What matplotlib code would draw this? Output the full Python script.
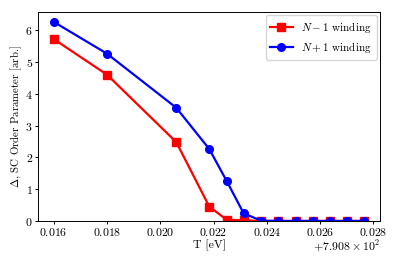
import matplotlib
matplotlib.use("Agg")
import matplotlib.pyplot as plt

plt.rcParams['font.family'] = 'cmr10'
plt.rcParams['mathtext.fontset'] = 'cm'
plt.rcParams['axes.unicode_minus'] = False
plt.rcParams['axes.formatter.use_mathtext'] = True
plt.rcParams['font.size'] = 8.5
plt.rcParams['xtick.major.size'] = 2.3
plt.rcParams['ytick.major.size'] = 2.3
plt.rcParams['xtick.major.pad'] = 1.5
plt.rcParams['ytick.major.pad'] = 1.5
plt.rcParams['axes.linewidth'] = 0.7
plt.rcParams['xtick.major.width'] = 0.7
plt.rcParams['ytick.major.width'] = 0.7

T_base = 790.8
T_offsets = [0.016, 0.018, 0.0206, 0.02184, 0.02249, 0.02313, 0.02378,
             0.02443, 0.02508, 0.02572, 0.02637, 0.02701, 0.02766]
T = [T_base + t for t in T_offsets]
minus_vals = [5.72, 4.60, 2.48, 0.45, 0.04, 0.02, 0.0, 0.0, 0.0, 0.0, 0.0, 0.0, 0.0]
plus_vals = [6.26, 5.26, 3.56, 2.26, 1.26, 0.24, 0.01, 0.0, 0.0, 0.0, 0.0, 0.0, 0.0]

fig = plt.figure(figsize=(3.97, 2.64), dpi=100)
ax = fig.add_axes([0.096, 0.163, 0.861, 0.792])
ax.plot(T, minus_vals, color='red', marker='s', lw=1.6, ms=5.5, label=r'$N-1$ winding')
ax.plot(T, plus_vals, color='blue', marker='o', lw=1.6, ms=5.5, label=r'$N+1$ winding')
ax.set_ylim(bottom=0)
ax.xaxis.OFFSETTEXTPAD = 0.5
ax.set_xlabel('T [eV]', labelpad=1.0)
ax.set_ylabel(r'$\Delta$, SC Order Parameter [arb.]', labelpad=0.5, fontsize=7.8)
ax.legend(loc='upper right', fontsize=8, borderaxespad=0.3)
fig.savefig('out.png', dpi=100)
